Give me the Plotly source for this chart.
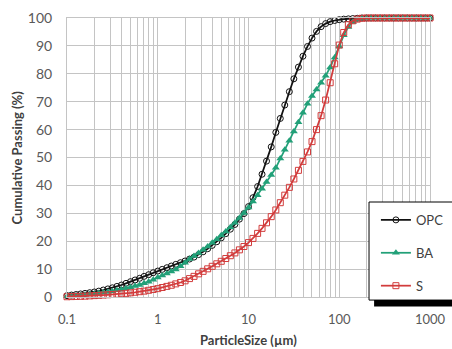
import plotly.graph_objects as go

# Particle size grid (µm), 20 points per decade from 0.1 to 1000
particle_size = [
    0.1, 0.112, 0.126, 0.141, 0.158, 0.178, 0.2, 0.224, 0.251, 0.282,
    0.316, 0.355, 0.398, 0.447, 0.501, 0.562, 0.631, 0.708, 0.794, 0.891,
    1.0, 1.12, 1.26, 1.41, 1.58, 1.78, 2.0, 2.24, 2.51, 2.82,
    3.16, 3.55, 3.98, 4.47, 5.01, 5.62, 6.31, 7.08, 7.94, 8.91,
    10.0, 11.2, 12.6, 14.1, 15.8, 17.8, 20.0, 22.4, 25.1, 28.2,
    31.6, 35.5, 39.8, 44.7, 50.1, 56.2, 63.1, 70.8, 79.4, 89.1,
    100, 112, 126, 141, 158, 178, 200, 224, 251, 282,
    316, 355, 398, 447, 501, 562, 631, 708, 794, 891,
    1000,
]

# Cumulative passing (%) for each material
opc = [
    0.5, 0.7, 0.9, 1.1, 1.3, 1.55, 1.8, 2.1, 2.5, 2.9,
    3.3, 3.8, 4.3, 4.9, 5.5, 6.1, 6.7, 7.4, 8.0, 8.7,
    9.3, 9.9, 10.5, 11.1, 11.7, 12.3, 12.9, 13.6, 14.3, 15.2,
    16.2, 17.3, 18.5, 19.8, 21.2, 22.7, 24.3, 26.0, 27.9, 29.9,
    32.4, 35.6, 39.6, 44.0, 48.7, 53.8, 59.0, 64.0, 68.8, 73.6,
    78.2, 82.4, 86.3, 89.8, 92.8, 95.2, 96.9, 98.0, 98.7, 99.1,
    99.4, 99.6, 99.7, 99.8, 99.9, 100, 100, 100, 100, 100,
    100, 100, 100, 100, 100, 100, 100, 100, 100, 100,
    100,
]
ba = [
    0.3, 0.4, 0.5, 0.65, 0.8, 1.0, 1.2, 1.4, 1.6, 1.8,
    2.1, 2.4, 2.7, 3.1, 3.5, 3.9, 4.3, 4.9, 5.5, 6.2,
    7.0, 7.7, 8.4, 9.1, 9.9, 11.0, 12.3, 13.6, 14.7, 15.8,
    16.9, 18.1, 19.4, 20.7, 22.1, 23.5, 25.0, 26.6, 28.3, 30.1,
    32.1, 34.2, 36.5, 38.8, 41.2, 43.7, 46.3, 49.6, 52.8, 56.0,
    59.3, 62.6, 66.0, 69.3, 72.0, 74.4, 76.8, 79.3, 82.3, 85.8,
    89.8, 93.8, 96.8, 98.6, 99.5, 99.9, 100, 100, 100, 100,
    100, 100, 100, 100, 100, 100, 100, 100, 100, 100,
    100,
]
slag = [
    0.1, 0.15, 0.2, 0.25, 0.3, 0.4, 0.5, 0.6, 0.7, 0.8,
    0.9, 1.0, 1.15, 1.3, 1.5, 1.7, 1.9, 2.1, 2.4, 2.7,
    3.0, 3.4, 3.8, 4.2, 4.7, 5.2, 5.8, 6.6, 7.4, 8.3,
    9.2, 10.1, 11.0, 11.9, 12.8, 13.8, 14.8, 15.8, 16.9, 18.1,
    19.5, 21.0, 22.8, 24.6, 26.6, 28.8, 31.2, 33.8, 36.5, 39.3,
    42.3, 45.4, 48.6, 52.0, 55.7, 60.0, 65.0, 70.6, 76.8, 83.6,
    90.3, 94.8, 97.6, 99.0, 99.6, 99.9, 100, 100, 100, 100,
    100, 100, 100, 100, 100, 100, 100, 100, 100, 100,
    100,
]

x_tick_vals = [0.1, 1, 10, 100, 1000]
x_tick_text = ["0.1", "1", "10", "100", "1000"]

FONT = "Lato, 'Open Sans', sans-serif"
GRID = "#c4c4c4"
TICK_FONT = dict(family=FONT, size=14, color="#595959")
X_TICK_FONT = dict(family=FONT, size=13, color="#595959")
TITLE_FONT = dict(family=FONT, size=13, color="#404040")

# Every 1..9 multiple per decade gets a gridline; only decades are labelled
grid_vals = [m * 10 ** e for e in range(-1, 3) for m in range(1, 10)] + [1000]
grid_text = [x_tick_text[x_tick_vals.index(v)] if v in x_tick_vals else "" for v in grid_vals]

series = [
    ("OPC", opc, "#111111", dict(symbol="circle-open", size=6, line=dict(width=1, color="#111111"))),
    ("BA", ba, "#22a078", dict(symbol="triangle-up", size=7, color="#22a078")),
    ("S", slag, "#d23c3c", dict(symbol="square-open", size=6, line=dict(width=1, color="#d23c3c"))),
]

fig = go.Figure()
for name, vals, color, marker in series:
    fig.add_trace(go.Scatter(
        x=particle_size, y=vals, name=name, legendgroup=name,
        mode="lines+markers",
        line=dict(color=color, width=1.75),
        marker=marker,
        cliponaxis=False,
    ))

fig.update_layout(
    width=452, height=349,
    margin=dict(l=67, r=22, t=18, b=52, autoexpand=False),
    paper_bgcolor="white", plot_bgcolor="white",
    font=TICK_FONT,
    showlegend=True,
    legend=dict(
        x=0.851, y=0.33, xanchor="left", yanchor="top",
        bgcolor="rgba(0,0,0,0)", borderwidth=0,
        font=dict(family=FONT, size=13, color="#404040"),
        traceorder="grouped", tracegroupgap=13,
        itemwidth=30,
    ),
    xaxis=dict(
        type="log", range=[-1, 3],
        tickmode="array", tickvals=grid_vals, ticktext=grid_text,
        showgrid=True, gridcolor=GRID, gridwidth=1,
        ticks="outside", ticklen=10, tickcolor="rgba(0,0,0,0)",
        showline=True, linecolor=GRID, linewidth=1, mirror=True,
        zeroline=False, tickfont=X_TICK_FONT,
    ),
    yaxis=dict(
        range=[0, 100], dtick=10,
        showgrid=True, gridcolor=GRID, gridwidth=1,
        ticks="outside", ticklen=11, tickcolor="rgba(0,0,0,0)",
        showline=True, linecolor=GRID, linewidth=1, mirror=True,
        zeroline=False, tickfont=TICK_FONT,
    ),
    annotations=[
        dict(text="<b>ParticleSize (µm)</b>", xref="paper", yref="paper",
             x=0.5, y=-0.155, xanchor="center", yanchor="middle", showarrow=False,
             font=TITLE_FONT),
        dict(text="<b>Cumulative Passing (%)</b>", xref="paper", yref="paper",
             x=-0.138, y=0.5, xanchor="center", yanchor="middle", showarrow=False,
             textangle=-90, font=TITLE_FONT),
    ],
    shapes=[
        # drop shadow, then the white legend frame on top of it
        dict(type="rect", xref="paper", yref="paper",
             x0=0.846, x1=1.12, y0=-0.034, y1=0.32,
             fillcolor="#000000", line=dict(width=0), layer="above"),
        dict(type="rect", xref="paper", yref="paper",
             x0=0.832, x1=1.12, y0=-0.011, y1=0.3405,
             fillcolor="#ffffff", line=dict(width=1, color="#000000"), layer="above"),
    ],
)

fig.write_html("out.html")
